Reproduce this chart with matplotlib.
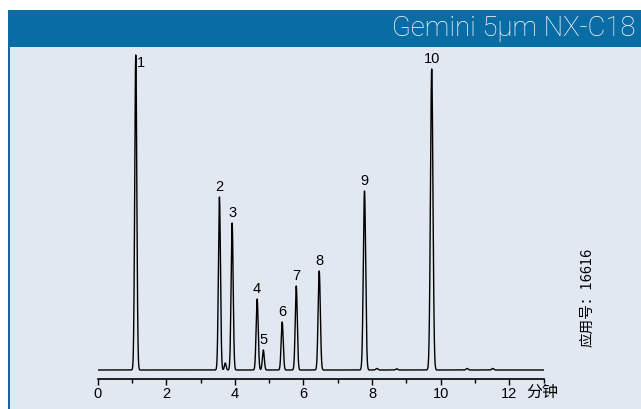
import numpy as np
import matplotlib
matplotlib.use("Agg")
import matplotlib.pyplot as plt
from matplotlib.patches import Rectangle
from matplotlib.ticker import FixedLocator

# ---- data ----
peak_labels = ["1", "2", "3", "4", "5", "6", "7", "8", "9", "10"]
peak_times = [1.11, 3.55, 3.92, 4.65, 4.83, 5.38, 5.79, 6.46, 7.78, 9.74]   # min
peak_heights = [315, 173, 147, 71, 20, 48, 84, 99, 179, 301]                # response
peak_widths = [0.030, 0.030, 0.030, 0.030, 0.028, 0.030, 0.030, 0.032, 0.034, 0.036]
minor_times = [3.72, 8.14, 8.72, 10.77, 11.52]
minor_heights = [7, 1.5, 1.2, 1.5, 1.5]
minor_widths = [0.025, 0.03, 0.03, 0.03, 0.03]
x_ticks = [0, 2, 4, 6, 8, 10, 12]
x_minor = [1, 3, 5, 7, 9, 11, 13]
x_unit = "分钟"
title = "Gemini 5µm NX-C18"
app_note = "应用号：16616"

W, H = 641, 409
BLUE = "#0a6ca5"
BG = "#e2e8f2"

plt.rcParams['font.family'] = ['Liberation Sans', 'Noto Sans CJK SC', 'DejaVu Sans']

fig = plt.figure(figsize=(W / 100, H / 100), dpi=100)
fig.patch.set_facecolor("white")

def rect(x0, y0_top, x1, y1_top, color):
    fig.add_artist(Rectangle((x0 / W, 1 - y1_top / H), (x1 - x0) / W, (y1_top - y0_top) / H,
                             transform=fig.transFigure, facecolor=color, edgecolor="none", zorder=0))

rect(8, 47, W, H, BG)       # panel
rect(8, 10, W, 47, BLUE)    # title band
rect(8, 47, 10, H, BLUE)    # left border

fig.text(636 / W, 1 - 29 / H, title, ha="right", va="center", color="white",
         fontsize=19.8, family=["Roboto", "Liberation Sans"], fontweight="light")

# axes: x 0..13 from px 97.7 to 543.5, bottom spine at y=379, top at y=47
ax_left, ax_right = 97.7, 543.5
ax_top, ax_bottom = 47, 379
ax = fig.add_axes([ax_left / W, 1 - ax_bottom / H, (ax_right - ax_left) / W, (ax_bottom - ax_top) / H])
ax.set_facecolor("none")
ax.set_xlim(0, 13)
ax.set_ylim(-9, 323)

t = np.linspace(0, 13, 8000)
y = np.zeros_like(t)
for tr, h, s in zip(peak_times + minor_times, peak_heights + minor_heights, peak_widths + minor_widths):
    y += h * np.exp(-0.5 * ((t - tr) / s) ** 2)
ax.plot(t, y, color="black", lw=1.0, solid_joinstyle="round")

for lab, tr, h in zip(peak_labels, peak_times, peak_heights):
    if lab == "1":
        ax.annotate(lab, (tr, h), xytext=(1, -1), textcoords="offset points",
                    ha="left", va="top", fontsize=10.5)
    else:
        ax.annotate(lab, (tr, h), xytext=(0, 2.5), textcoords="offset points",
                    ha="center", va="bottom", fontsize=10.5)

for sp in ["left", "right", "top"]:
    ax.spines[sp].set_visible(False)
ax.spines["bottom"].set_linewidth(1.2)
ax.set_yticks([])
ax.xaxis.set_major_locator(FixedLocator(x_ticks))
ax.xaxis.set_minor_locator(FixedLocator(x_minor))
ax.tick_params(axis="x", which="major", length=4, width=1.0, direction="out", pad=2, labelsize=10.5)
ax.tick_params(axis="x", which="minor", length=3, width=1.0, direction="out")

fig.text(526 / W, 1 - 392 / H, x_unit, ha="left", va="center", fontsize=11.5,
         family=["Noto Sans CJK SC", "DejaVu Sans"])
fig.text(587 / W, 1 - 297 / H, app_note, ha="center", va="center", rotation=90,
         fontsize=10.5, family=["Noto Sans CJK SC", "DejaVu Sans"])

fig.savefig("out.png", dpi=100, facecolor=fig.get_facecolor())
